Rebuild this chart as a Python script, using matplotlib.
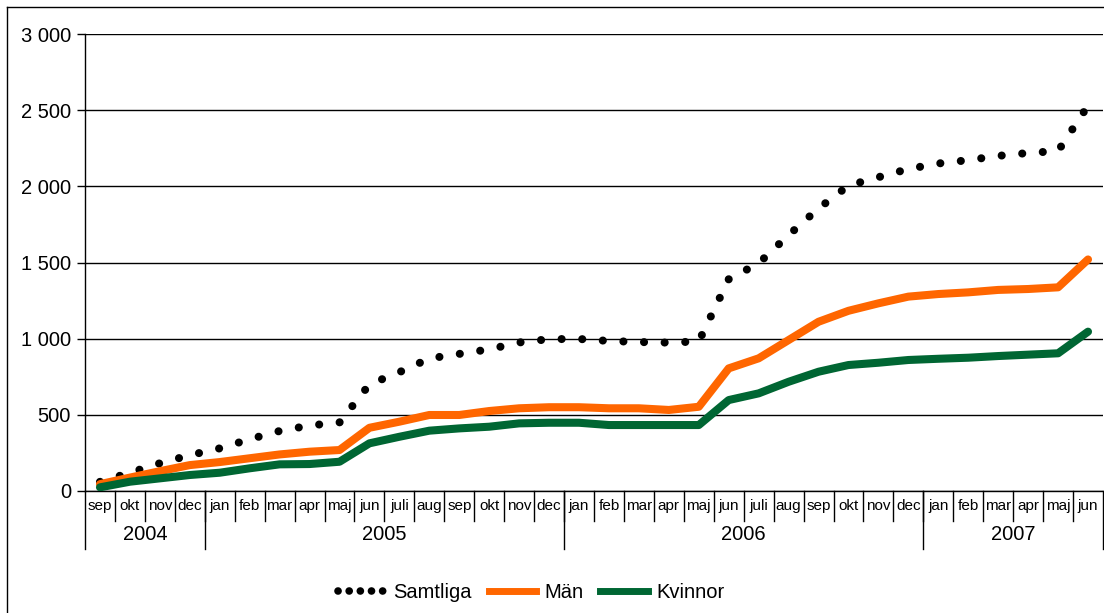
import matplotlib
matplotlib.use("Agg")
import matplotlib.pyplot as plt
from matplotlib.lines import Line2D
from matplotlib.ticker import FuncFormatter

plt.rcParams['font.family'] = ['Liberation Sans', 'DejaVu Sans']

# månader sep 2004 - jun 2007
months = ['sep', 'okt', 'nov', 'dec',
          'jan', 'feb', 'mar', 'apr', 'maj', 'jun', 'juli', 'aug', 'sep', 'okt', 'nov', 'dec',
          'jan', 'feb', 'mar', 'apr', 'maj', 'jun', 'juli', 'aug', 'sep', 'okt', 'nov', 'dec',
          'jan', 'feb', 'mar', 'apr', 'maj', 'jun']
years = ['2004', '2005', '2006', '2007']
year_len = [4, 12, 12, 6]

samtliga = [60, 120, 182, 235, 280, 340, 394, 430, 450, 700, 780, 870, 900, 930, 975, 997,
            998, 985, 978, 974, 982, 1390, 1495, 1680, 1855, 2005, 2060, 2114,
            2150, 2172, 2200, 2219, 2232, 2530]
man = [45, 88, 130, 170, 190, 215, 240, 258, 269, 415, 455, 499, 499, 525, 543, 550,
       550, 543, 543, 532, 553, 805, 871, 991, 1111, 1183, 1232, 1276,
       1293, 1304, 1320, 1326, 1337, 1520]
kvinnor = [24, 61, 83, 105, 120, 149, 175, 177, 192, 313, 356, 396, 411, 422, 444, 448,
           448, 433, 433, 433, 433, 597, 641, 717, 783, 827, 842, 860,
           868, 875, 886, 895, 904, 1046]

W, H = 1104, 613
fig = plt.figure(figsize=(W / 100, H / 100), dpi=100)
ax = fig.add_axes([85 / W, 1 - 491 / H, (1103 - 85) / W, (491 - 34) / H])

x = [i + 0.5 for i in range(len(months))]

ax.plot(x, samtliga, color='black', lw=5.8, linestyle=(0, (0.01, 2.55)),
        dash_capstyle='round', zorder=3)
ax.plot(x, man, color='#ff6600', lw=5.8, solid_joinstyle='round',
        solid_capstyle='round', zorder=4)
ax.plot(x, kvinnor, color='#006633', lw=5.8, solid_joinstyle='round',
        solid_capstyle='round', zorder=5)

ax.set_xlim(0, len(months))
ax.set_ylim(0, 3000)
ax.set_yticks(range(0, 3001, 500))
ax.yaxis.set_major_formatter(FuncFormatter(lambda v, p: '{:,}'.format(int(v)).replace(',', ' ')))
ax.tick_params(axis='y', length=6, width=1, labelsize=14.5, pad=4, colors='black')
ax.set_xticks([])
ax.grid(axis='y', color='black', lw=1.0)
ax.set_axisbelow(True)
for s in ['top', 'right']:
    ax.spines[s].set_visible(False)
ax.spines['left'].set_linewidth(1.0)
ax.spines['bottom'].set_linewidth(1.0)

# månadsetiketter och avgränsare
hpx = 491 - 34
m_low = -30 / hpx
y_low = -58 / hpx
trans = ax.get_xaxis_transform()
for i, m in enumerate(months):
    ax.text(i + 0.5, -15 / hpx, m, transform=trans, ha='center', va='center', fontsize=11)
    if i > 0:
        ax.add_line(Line2D([i, i], [0, m_low], transform=trans, color='black', lw=1.0, clip_on=False))

start = 0
for yr, n in zip(years, year_len):
    ax.text(start + n / 2, -43 / hpx, yr, transform=trans, ha='center', va='center', fontsize=14.5)
    ax.add_line(Line2D([start, start], [0, y_low], transform=trans, color='black', lw=1.0, clip_on=False))
    start += n
ax.add_line(Line2D([start, start], [0, y_low], transform=trans, color='black', lw=1.0, clip_on=False))

# förklaring
handles = [Line2D([], [], color='black', lw=5.5, linestyle=(0, (0.01, 1.45)), dash_capstyle='round'),
           Line2D([], [], color='#ff6600', lw=5),
           Line2D([], [], color='#006633', lw=5)]
fig.legend(handles, ['Samtliga', 'Män', 'Kvinnor'], loc='center', bbox_to_anchor=(531 / W, 1 - 593 / H),
           ncol=3, frameon=False, fontsize=14.5, handlelength=2.35, handletextpad=0.4,
           columnspacing=0.85)

# ram runt diagrammet
fig.add_artist(Line2D([7 / W, 7 / W], [0, 1 - 7 / H], transform=fig.transFigure, color='black', lw=1.0))
fig.add_artist(Line2D([7 / W, 1], [1 - 7 / H, 1 - 7 / H], transform=fig.transFigure, color='black', lw=1.0))

fig.savefig('out.png', dpi=100)
